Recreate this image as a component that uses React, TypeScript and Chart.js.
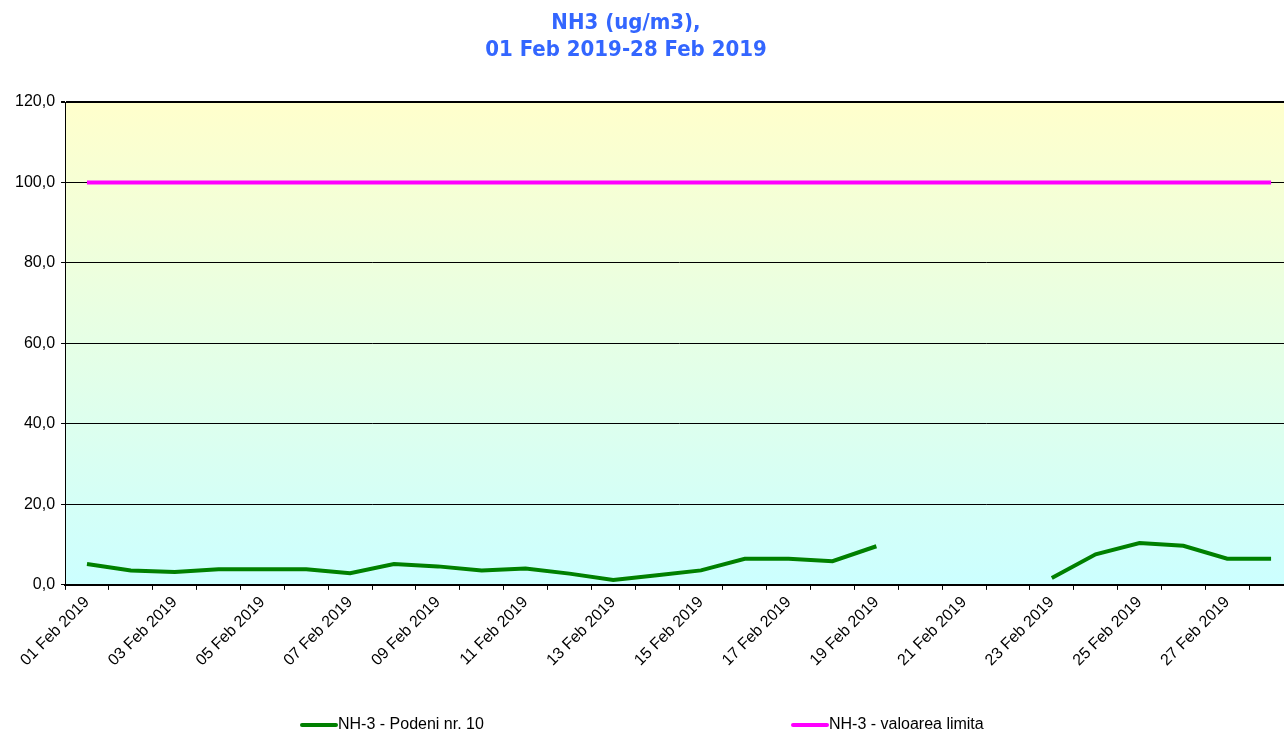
import React, { useEffect, useRef } from "react";
import { Chart, registerables } from "chart.js";

Chart.register(...registerables);

const categories = [
  "01 Feb 2019", "02 Feb 2019", "03 Feb 2019", "04 Feb 2019", "05 Feb 2019", "06 Feb 2019", "07 Feb 2019",
  "08 Feb 2019", "09 Feb 2019", "10 Feb 2019", "11 Feb 2019", "12 Feb 2019", "13 Feb 2019", "14 Feb 2019",
  "15 Feb 2019", "16 Feb 2019", "17 Feb 2019", "18 Feb 2019", "19 Feb 2019", "20 Feb 2019", "21 Feb 2019",
  "22 Feb 2019", "23 Feb 2019", "24 Feb 2019", "25 Feb 2019", "26 Feb 2019", "27 Feb 2019", "28 Feb 2019",
];

const podeniValues: (number | null)[] = [
  5.2, 3.6, 3.2, 3.9, 3.9, 3.9, 2.9, 5.2, 4.6, 3.6, 4.1, 2.8, 1.2, 2.4,
  3.6, 6.5, 6.5, 5.9, 9.6, null, null, null, 1.7, 7.6, 10.4, 9.7, 6.5, 6.5,
];

const limitValues = [
  100, 100, 100, 100, 100, 100, 100, 100, 100, 100, 100, 100, 100, 100,
  100, 100, 100, 100, 100, 100, 100, 100, 100, 100, 100, 100, 100, 100,
];

const seriesLabels = ["NH-3 - Podeni nr. 10", "NH-3 - valoarea limita"];
const seriesColors = ["#008000", "#FF00FF"];
const titleLines = ["NH3 (ug/m3),", "01 Feb 2019-28 Feb 2019"];
const yMin = 0;
const yMax = 120;
const yStep = 20;

const bgPlugin = {
  id: "plotBg",
  beforeDraw(chart: any) {
    const { ctx, chartArea } = chart;
    if (!chartArea) return;
    const g = ctx.createLinearGradient(0, chartArea.top, 0, chartArea.bottom);
    g.addColorStop(0, "#FFFFCC");
    g.addColorStop(1, "#CCFFFF");
    ctx.save();
    ctx.fillStyle = g;
    ctx.fillRect(chartArea.left, chartArea.top, chartArea.right - chartArea.left, chartArea.bottom - chartArea.top);
    ctx.restore();
  },
};

const titlePlugin = {
  id: "customTitle",
  afterDraw(chart: any) {
    const ctx = chart.ctx;
    ctx.save();
    ctx.font = "bold 22px 'DejaVu Sans Condensed', 'DejaVu Sans', sans-serif";
    ctx.fillStyle = "#3366FF";
    ctx.textAlign = "center";
    ctx.textBaseline = "middle";
    titleLines.forEach((t, i) => ctx.fillText(t, 626, 23.5 + i * 26.5));
    ctx.restore();
  },
};

const legendPlugin = {
  id: "customLegend",
  afterDraw(chart: any) {
    const ctx = chart.ctx;
    const y = 725;
    const starts = [302, 793];
    ctx.save();
    ctx.font = "16px 'Liberation Sans', Arial, sans-serif";
    ctx.textBaseline = "middle";
    ctx.textAlign = "left";
    chart.data.datasets.forEach((ds: any, i: number) => {
      const x = starts[i];
      ctx.strokeStyle = ds.borderColor;
      ctx.lineWidth = 4;
      ctx.lineCap = "round";
      ctx.beginPath();
      ctx.moveTo(x, y);
      ctx.lineTo(x + 34, y);
      ctx.stroke();
      ctx.fillStyle = "#000000";
      ctx.fillText(ds.label, x + 36, y);
    });
    ctx.restore();
  },
};

export default function App() {
  const ref = useRef<HTMLCanvasElement | null>(null);

  useEffect(() => {
    if (!ref.current) return;
    const chart = new Chart(ref.current, {
      type: "line",
      data: {
        labels: categories,
        datasets: [
          {
            label: seriesLabels[0],
            data: podeniValues,
            borderColor: seriesColors[0],
            backgroundColor: seriesColors[0],
            borderWidth: 4,
            pointRadius: 0,
            spanGaps: false,
            tension: 0,
          },
          {
            label: seriesLabels[1],
            data: limitValues,
            borderColor: seriesColors[1],
            backgroundColor: seriesColors[1],
            borderWidth: 4,
            pointRadius: 0,
            tension: 0,
          },
        ],
      },
      options: {
        animation: false,
        responsive: true,
        maintainAspectRatio: false,
        layout: { padding: { left: 9, right: 0, top: 102, bottom: 60 } },
        plugins: {
          legend: { display: false },
          tooltip: { enabled: false },
          title: { display: false },
        },
        scales: {
          x: {
            offset: true,
            grid: {
              offset: true,
              drawOnChartArea: false,
              drawTicks: true,
              tickLength: 5,
              color: "#000000",
            },
            border: { display: true, color: "#000000", width: 2 },
            ticks: {
              autoSkip: false,
              minRotation: 45,
              maxRotation: 45,
              color: "#000000",
              font: { family: "'Liberation Sans', Arial, sans-serif", size: 16 },
              callback: (_v: any, i: number) => (i % 2 === 0 ? categories[i] : ""),
            },
          },
          y: {
            min: yMin,
            max: yMax,
            grid: {
              color: "#000000",
              lineWidth: (c: any) => (c.tick && c.tick.value === yMax ? 2 : 1),
              tickLength: 4,
            },
            border: { display: true, color: "#000000", width: 1 },
            ticks: {
              stepSize: yStep,
              padding: 6,
              color: "#000000",
              font: { family: "'Liberation Sans', Arial, sans-serif", size: 16 },
              callback: (v: any) => Number(v).toFixed(1).replace(".", ","),
            },
          },
        },
      },
      plugins: [bgPlugin, titlePlugin, legendPlugin],
    });
    return () => chart.destroy();
  }, []);

  return (
    <div style={{ position: "fixed", left: 0, top: 0, width: 1284, height: 733, overflow: "hidden", background: "#ffffff" }}>
      <div style={{ position: "absolute", left: 0, top: 0, width: 1293, height: 733 }}>
        <canvas ref={ref} />
      </div>
    </div>
  );
}
